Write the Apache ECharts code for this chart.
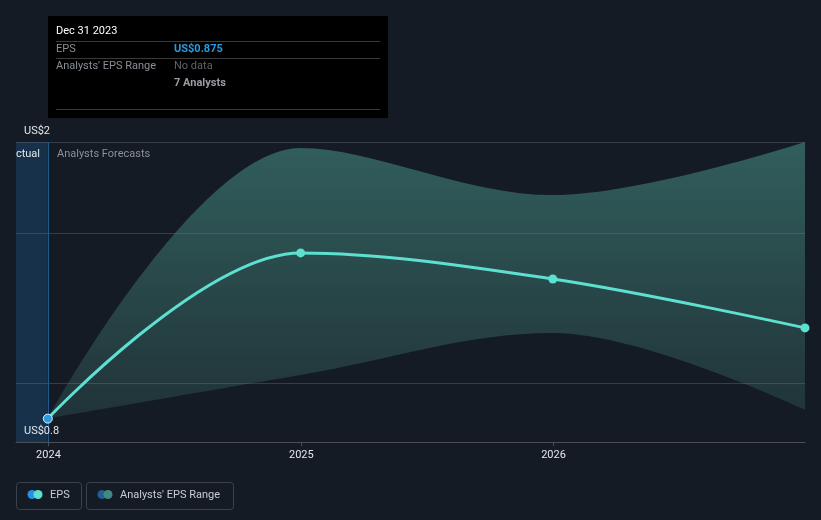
<!DOCTYPE html>
<html>
<head>
<meta charset="utf-8">
<script src="https://cdn.jsdelivr.net/npm/echarts@6/dist/echarts.min.js"></script>
<style>
html,body{margin:0;padding:0;background:#151b24;}
#chart{width:821px;height:520px;}
</style>
</head>
<body>
<div id="chart"></div>
<script>
// ---- data ----
const dates = ['2023-12-31', '2024-12-31', '2025-12-31', '2026-12-31'];
const eps = [0.875, 1.549, 1.443, 1.244];
const rangeLow = [0.875, 1.052, 1.223, 0.910];
const rangeHigh = [0.875, 1.976, 1.784, 2.0];
const xTickDates = ['2024-01-01', '2025-01-01', '2026-01-01'];
const xTickLabels = ['2024', '2025', '2026'];
const yTickValues = [0.78, 2.0];
const yTickLabels = ['US$0.8', 'US$2'];
const gridValues = [1.024, 1.634, 2.0];
const xStart = '2023-11-15';
const xEnd = '2026-12-31';
const actualEnd = '2023-12-31';

const DAY = 86400000;
const ts = d => Math.round(Date.parse(d + 'T00:00:00Z') / DAY); // day number
const FONT = 'Roboto, "Noto Sans", sans-serif';
const FS = 11;
const F = FS + 'px ' + FONT;
const FB = 'bold ' + FS + 'px ' + FONT;
const BG = '#151b24';
const SMOOTH = 0.35;

const chart = echarts.init(document.getElementById('chart'), null, {renderer: 'canvas'});
const xTickTs = xTickDates.map(ts);

const option = {
  backgroundColor: BG,
  animation: false,
  textStyle: {fontFamily: FONT},
  grid: {left: 16, right: 16, top: 142, bottom: 78, containLabel: false},
  xAxis: {
    type: 'value',
    min: ts(xStart),
    max: ts(xEnd),
    axisLine: {show: true, lineStyle: {color: '#4a4f57', width: 1}},
    axisTick: {show: true, length: 4, lineStyle: {color: '#4a4f57'}, customValues: xTickTs},
    axisLabel: {
      show: true, color: '#e4e6ea', fontSize: FS, margin: 8, fontFamily: FONT,
      customValues: xTickTs,
      formatter: function (v) {
        const i = xTickTs.indexOf(Math.round(v));
        return i >= 0 ? xTickLabels[i] : '';
      }
    },
    splitLine: {show: false}
  },
  yAxis: {
    type: 'value',
    z: 10,
    min: yTickValues[0],
    max: yTickValues[1],
    axisLine: {show: false},
    axisTick: {show: false},
    splitLine: {show: false},
    axisLabel: {
      show: true, inside: true, margin: 8, color: '#e4e6ea', fontSize: FS, fontFamily: FONT,
      verticalAlign: 'bottom', padding: [0, 0, 5, 0],
      customValues: yTickValues,
      formatter: function (v) {
        let best = 0;
        yTickValues.forEach((t, i) => { if (Math.abs(t - v) < Math.abs(yTickValues[best] - v)) best = i; });
        return yTickLabels[best];
      }
    }
  },
  series: [
    {
      name: "Analysts' EPS Range",
      type: 'line',
      smooth: SMOOTH,
      symbol: 'none',
      lineStyle: {opacity: 0},
      areaStyle: {
        opacity: 1,
        origin: 'start',
        color: new echarts.graphic.LinearGradient(0, 0, 0, 1, [
          {offset: 0, color: '#315e5c'},
          {offset: 1, color: '#1f2f35'}
        ], false)
      },
      data: dates.map((d, i) => [ts(d), rangeHigh[i]]),
      z: 1,
      markArea: {
        silent: true,
        itemStyle: {color: '#163149'},
        data: [[{xAxis: ts(xStart)}, {xAxis: ts(actualEnd)}]]
      }
    },
    {
      name: 'rangeLow',
      type: 'line',
      smooth: SMOOTH,
      symbol: 'none',
      lineStyle: {opacity: 0},
      areaStyle: {opacity: 1, origin: 'start', color: BG},
      data: dates.map((d, i) => [ts(d), rangeLow[i]]),
      z: 2
    },
    {
      name: 'grid',
      type: 'line',
      data: [],
      z: 3,
      markLine: {
        silent: true,
        symbol: 'none',
        label: {show: false},
        lineStyle: {color: 'rgba(120,126,136,0.35)', width: 1, type: 'solid'},
        data: gridValues.map(v => ({yAxis: v}))
      }
    },
    {
      name: 'divider',
      type: 'line',
      data: [],
      z: 3,
      markLine: {
        silent: true,
        symbol: 'none',
        label: {show: false},
        lineStyle: {color: '#1e5a8a', width: 1, type: 'solid'},
        data: [{xAxis: ts(actualEnd)}]
      }
    },
    {
      name: 'EPS',
      type: 'line',
      smooth: SMOOTH,
      symbol: 'circle',
      symbolSize: 9,
      lineStyle: {color: '#5de0cf', width: 3},
      itemStyle: {color: '#5de0cf'},
      data: dates.map((d, i) => {
        const p = {value: [ts(d), eps[i]]};
        if (i === 0) p.itemStyle = {color: '#2a9ae0', borderColor: '#e8f4ff', borderWidth: 1};
        return p;
      }),
      z: 5
    }
  ],
  graphic: [
    {type: 'text', x: 40, y: 154, z: 10, style: {text: 'Actual', fill: '#e4e6ea', font: F, align: 'right', verticalAlign: 'middle'}},
    {type: 'rect', x: 0, y: 142, z: 11, shape: {width: 16, height: 300}, style: {fill: BG}},
    {type: 'text', x: 57, y: 154, z: 10, style: {text: 'Analysts Forecasts', fill: '#8a9099', font: F, align: 'left', verticalAlign: 'middle'}},
    {type: 'rect', x: 48, y: 16, z: 20, shape: {width: 340, height: 102}, style: {fill: '#000000'}},
    {type: 'text', x: 56, y: 31.5, z: 21, style: {text: 'Dec 31 2023', fill: '#ffffff', font: F, verticalAlign: 'middle'}},
    {type: 'line', z: 21, shape: {x1: 56, y1: 41.5, x2: 380, y2: 41.5}, style: {stroke: '#3a3a3a', lineWidth: 1}},
    {type: 'text', x: 56, y: 49.5, z: 21, style: {text: 'EPS', fill: '#8a8f96', font: F, verticalAlign: 'middle'}},
    {type: 'text', x: 174, y: 49.5, z: 21, style: {text: 'US$0.875', fill: '#2a9ae0', font: FB, verticalAlign: 'middle'}},
    {type: 'line', z: 21, shape: {x1: 56, y1: 58.5, x2: 380, y2: 58.5}, style: {stroke: '#3a3a3a', lineWidth: 1}},
    {type: 'text', x: 56, y: 66.5, z: 21, style: {text: "Analysts' EPS Range", fill: '#8a8f96', font: F, verticalAlign: 'middle'}},
    {type: 'text', x: 174, y: 66.5, z: 21, style: {text: 'No data', fill: '#5e6268', font: F, verticalAlign: 'middle'}},
    {type: 'text', x: 174, y: 83.5, z: 21, style: {text: '7 Analysts', fill: '#9a9ea4', font: FB, verticalAlign: 'middle'}},
    {type: 'line', z: 21, shape: {x1: 56, y1: 109.5, x2: 380, y2: 109.5}, style: {stroke: '#3a3a3a', lineWidth: 1}},
    {type: 'rect', x: 16.5, y: 482.5, z: 10, shape: {width: 65, height: 27, r: 3}, style: {fill: 'none', stroke: '#3c424b', lineWidth: 1}},
    {type: 'circle', z: 11, shape: {cx: 32, cy: 494.5, r: 4.5}, style: {fill: '#2a8fe0'}},
    {type: 'circle', z: 12, shape: {cx: 38, cy: 494.5, r: 4.5}, style: {fill: '#5de0cf'}},
    {type: 'text', x: 50, y: 495, z: 11, style: {text: 'EPS', fill: '#c8ccd4', font: F, verticalAlign: 'middle'}},
    {type: 'rect', x: 86.5, y: 482.5, z: 10, shape: {width: 147, height: 27, r: 3}, style: {fill: 'none', stroke: '#3c424b', lineWidth: 1}},
    {type: 'circle', z: 11, shape: {cx: 102, cy: 494.5, r: 4.5}, style: {fill: '#215f8e'}},
    {type: 'circle', z: 12, shape: {cx: 108, cy: 494.5, r: 4.5}, style: {fill: '#3f8a84'}},
    {type: 'text', x: 120, y: 495, z: 11, style: {text: "Analysts' EPS Range", fill: '#c8ccd4', font: F, verticalAlign: 'middle'}}
  ]
};
chart.setOption(option);
</script>
</body>
</html>
